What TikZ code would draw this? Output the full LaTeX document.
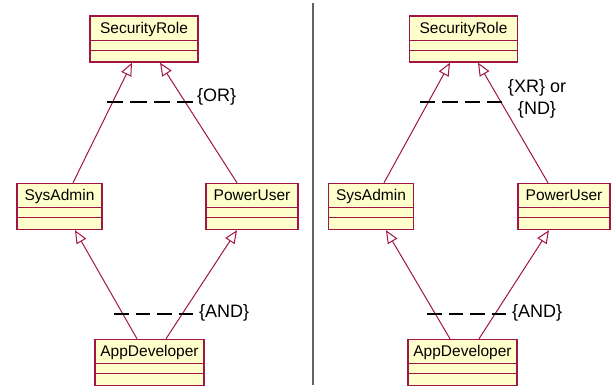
\documentclass[tikz,border=0pt]{standalone}
\usepackage{fontspec}
\setmainfont{Liberation Sans}
\usetikzlibrary{arrows.meta}
\definecolor{boxfill}{RGB}{255,255,204}
\definecolor{boxline}{RGB}{160,20,70}
\definecolor{divider}{RGB}{100,100,100}
\tikzset{
  classbox/.style={draw=boxline, fill=boxfill, line width=1.4pt, inner sep=0pt,
    font=\fontsize{15.5}{17}\selectfont, text height=17pt, text depth=29pt,
    append after command={
      ([yshift=-25pt]\tikzlastnode.north west) edge[draw=boxline, line width=1pt] ([yshift=-25pt]\tikzlastnode.north east)
      ([yshift=-35pt]\tikzlastnode.north west) edge[draw=boxline, line width=1pt] ([yshift=-35pt]\tikzlastnode.north east)
    }},
  gen/.style={draw=boxline, line width=1pt,
    -{Triangle[length=13pt, width=11pt, fill=white, line width=1pt]}},
  % four dashes per constraint line; #1 is the dash length
  constraint/.style={draw=black, line width=2.8pt, dash pattern=on #1 off 7pt},
  constraint/.default=15pt,
  note/.style={font=\fontsize{18}{22}\selectfont, inner sep=0pt, align=center}
}
\begin{document}
\begin{tikzpicture}[x=1pt, y=-1pt]
  \useasboundingbox (0,0) rectangle (616,388);

  % separator between the two variants
  \draw[divider, line width=1.3pt] (313,3) -- (313,385);

  % left variant: OR over the two parents
  \node[classbox, minimum width=108pt] (secL) at (144,39) {SecurityRole};
  \node[classbox, minimum width=85pt]  (sysL) at (59.5,206.5) {SysAdmin};
  \node[classbox, minimum width=92pt]  (powL) at (252,206.5) {PowerUser};
  \node[classbox, minimum width=109pt] (appL) at (149.5,362.5) {AppDeveloper};

  \draw[gen] ([xshift=13.5pt]sysL.north) -- ([xshift=-12pt]secL.south);
  \draw[gen] ([xshift=-15pt]powL.north) -- ([xshift=16pt]secL.south);
  \draw[gen] ([xshift=-12.5pt]appL.north) -- ([xshift=15.5pt]sysL.south);
  \draw[gen] ([xshift=16.5pt]appL.north) -- ([xshift=-15pt]powL.south);

  \coordinate (orA) at (107,102);
  \coordinate (orB) at (193,102);
  \draw[constraint=16.25pt] (orA) -- (orB);
  \node[note, anchor=west] (orL) at (197,97) {\{OR\}};

  \coordinate (andA) at (114,314);
  \coordinate (andB) at (193,314);
  \draw[constraint=14.5pt] (andA) -- (andB);
  \node[note, anchor=west] (andL) at (199,313) {\{AND\}};

  % right variant: XR / ND over the two parents
  \node[classbox, minimum width=108pt] (secR) at (463.5,39) {SecurityRole};
  \node[classbox, minimum width=85pt]  (sysR) at (371,206.5) {SysAdmin};
  \node[classbox, minimum width=92pt]  (powR) at (564,206.5) {PowerUser};
  \node[classbox, minimum width=109pt] (appR) at (462.5,362.5) {AppDeveloper};

  \draw[gen] ([xshift=13pt]sysR.north) -- ([xshift=-13.5pt]secR.south);
  \draw[gen] ([xshift=-16pt]powR.north) -- ([xshift=14.5pt]secR.south);
  \draw[gen] ([xshift=-12.5pt]appR.north) -- ([xshift=15pt]sysR.south);
  \draw[gen] ([xshift=16.5pt]appR.north) -- ([xshift=-15pt]powR.south);

  \coordinate (xrA) at (420,102);
  \coordinate (xrB) at (502,102);
  \draw[constraint=15.25pt] (xrA) -- (xrB);
  \node[note] (xrL) at (537,99) {\{XR\} or\\\{ND\}};

  \coordinate (and2A) at (427,314);
  \coordinate (and2B) at (506,314);
  \draw[constraint=14.5pt] (and2A) -- (and2B);
  \node[note, anchor=west] (and2L) at (512,313) {\{AND\}};
\end{tikzpicture}
\end{document}
